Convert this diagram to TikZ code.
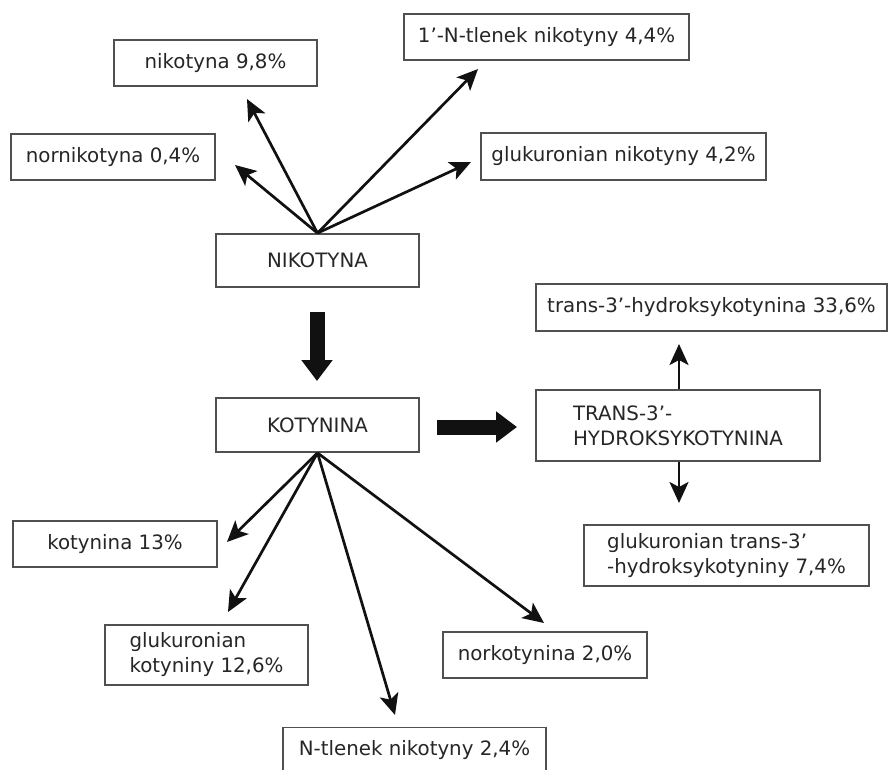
\documentclass[tikz,border=0pt]{standalone}
\usepackage{fontspec}
\setmainfont{DejaVu Sans}
\usetikzlibrary{arrows.meta}
\definecolor{txt}{HTML}{262626}
\definecolor{brd}{HTML}{505050}
\definecolor{arrc}{HTML}{111111}
\begin{document}
\begin{tikzpicture}[x=1pt,y=-1pt,
  box/.style={draw=brd, line width=1.8pt, text=txt, font=\fontsize{19.8}{25}\selectfont, inner sep=0pt, align=left},
  arr/.style={draw=arrc, line width=2.7pt, -{Stealth[length=21pt,width=19pt,inset=5pt]}},
  bigarr/.style={draw=arrc, line width=15pt, -{Triangle[length=21pt,width=30pt]}}]
\useasboundingbox (0,0) rectangle (891,769);
\fill[white] (0,0) rectangle (891,769);

% boxes
\node[box, minimum width=203pt, minimum height=46pt] (nik98) at (215.5,63) {nikotyna 9,8\%};
\node[box, minimum width=204pt, minimum height=46pt] (nornik) at (113,157) {nornikotyna 0,4\%};
\node[box, minimum width=285pt, minimum height=46pt] (tl44) at (546.5,37) {1’-N-tlenek nikotyny 4,4\%};
\node[box, minimum width=285pt, minimum height=47pt] (gnik) at (623.5,156.5) {glukuronian nikotyny 4,2\%};
\node[box, minimum width=203pt, minimum height=53pt] (nik) at (317.5,260.5) {NIKOTYNA};
\node[box, minimum width=203pt, minimum height=54pt] (kot) at (317.5,425) {KOTYNINA};
\node[box, minimum width=284pt, minimum height=71pt] (trans) at (678,425.5) {TRANS-3’-\\HYDROKSYKOTYNINA};
\node[box, minimum width=351pt, minimum height=47pt] (t336) at (711.5,307.5) {trans-3’-hydroksykotynina 33,6\%};
\node[box, minimum width=285pt, minimum height=61pt] (gtrans) at (726.5,555.5) {glukuronian trans-3’\\-hydroksykotyniny 7,4\%};
\node[box, minimum width=204pt, minimum height=46pt] (kot13) at (115,544) {kotynina 13\%};
\node[box, minimum width=203pt, minimum height=60pt] (gkot) at (206.5,655) {glukuronian\\kotyniny 12,6\%};
\node[box, minimum width=204pt, minimum height=46pt] (norkot) at (545,655) {norkotynina 2,0\%};
\node[box, minimum width=263pt, minimum height=46pt] (tl24) at (414.5,750.5) {N-tlenek nikotyny 2,4\%};

% arrow tips
\coordinate (a98) at (247,99);
\coordinate (anor) at (235,165);
\coordinate (atl44) at (478,69);
\coordinate (agnik) at (471,162);
\coordinate (ak13) at (227,542);
\coordinate (agkot) at (228,612);
\coordinate (atl24) at (395,715);
\coordinate (anork) at (544,623);
\coordinate (aup) at (679,344);
\coordinate (adn) at (679,503);
\coordinate (bd1) at (317,312);
\coordinate (bd2) at (317,381);
\coordinate (br1) at (437,427);
\coordinate (br2) at (517,427);

\draw[arr] (nik.north) -- (a98);
\draw[arr] (nik.north) -- (anor);
\draw[arr] (nik.north) -- (atl44);
\draw[arr] (nik.north) -- (agnik);
\draw[arr] (kot.south) -- (ak13);
\draw[arr] (kot.south) -- (agkot);
\draw[arr] (kot.south) -- (atl24);
\draw[arr] (kot.south) -- (anork);
\draw[arr] (trans.north -| aup) -- (aup);
\draw[arr] (trans.south -| adn) -- (adn);
\draw[bigarr] (bd1) -- (bd2);
\draw[bigarr] (br1) -- (br2);
\end{tikzpicture}
\end{document}
